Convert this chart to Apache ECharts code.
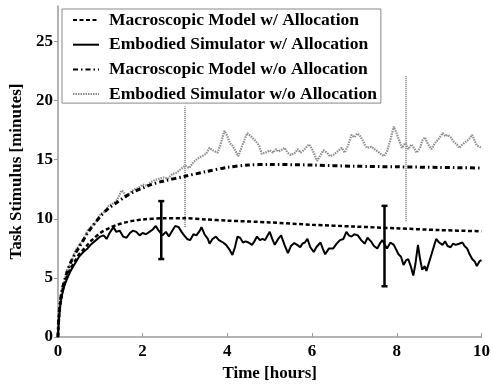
<!DOCTYPE html>
<html>
<head>
<meta charset="utf-8">
<script src="https://cdn.jsdelivr.net/npm/echarts@6/dist/echarts.min.js"></script>
<style>
html,body{margin:0;padding:0;background:#fff;}
#chart{width:493px;height:387px;}
</style>
</head>
<body>
<div id="chart"></div>
<script>
// ---- Data ----
const seriesNames = [
  'Macroscopic Model w/ Allocation',
  'Embodied Simulator w/ Allocation',
  'Macroscopic Model w/o Allocation',
  'Embodied Simulator w/o Allocation'
];

const xTicks = [0, 2, 4, 6, 8, 10];
const yTicks = [0, 5, 10, 15, 20, 25];

// Macroscopic model with allocation (dashed)
const macroWithX = [0,0.02,0.05,0.1,0.2,0.3,0.4,0.5,0.6,0.7,0.8,1.0,1.2,1.4,1.6,1.8,2.0,2.5,3.0,3.5,4.0,5.0,6.0,7.0,8.0,9.0,10.0];
const macroWithY = [0,1.5,2.7,3.8,5.0,5.8,6.4,7.0,7.4,7.8,8.2,8.8,9.2,9.5,9.7,9.85,9.95,10.05,10.05,9.95,9.85,9.7,9.5,9.35,9.2,9.05,8.95];

// Macroscopic model without allocation (dash-dot)
const macroWithoutX = [0,0.02,0.05,0.1,0.2,0.3,0.4,0.5,0.6,0.7,0.8,1.0,1.2,1.4,1.6,1.8,2.0,2.2,2.5,3.0,3.5,4.0,4.5,5.0,6.0,7.0,8.0,9.0,10.0];
const macroWithoutY = [0,1.6,2.8,4.0,5.3,6.3,7.0,7.6,8.2,8.8,9.3,10.2,10.9,11.4,11.9,12.3,12.6,12.9,13.2,13.6,14.0,14.35,14.55,14.6,14.55,14.45,14.4,14.35,14.3];

// Embodied simulator with allocation (solid)
const simWithX = [0,0.03,0.06,0.1,0.15,0.2,0.3,0.4,0.5,0.6,0.7,0.8,0.9,1.0,1.08,1.15,1.22,1.31,1.38,1.46,1.54,1.62,1.7,1.77,1.85,1.93,2.0,2.08,2.16,2.24,2.31,2.38,2.47,2.55,2.62,2.7,2.77,2.85,2.92,2.98,3.05,3.12,3.2,3.27,3.35,3.39,3.46,3.54,3.58,3.65,3.73,3.8,3.9,3.97,4.05,4.12,4.18,4.24,4.3,4.37,4.43,4.5,4.58,4.64,4.7,4.77,4.83,4.89,4.95,5.0,5.06,5.12,5.2,5.27,5.35,5.43,5.5,5.58,5.65,5.72,5.77,5.83,5.89,5.96,6.04,6.1,6.2,6.25,6.31,6.4,6.5,6.58,6.66,6.74,6.81,6.87,6.93,7.0,7.08,7.16,7.24,7.31,7.39,7.46,7.54,7.6,7.66,7.72,7.77,7.85,7.93,8.0,8.04,8.1,8.16,8.22,8.27,8.33,8.39,8.44,8.5,8.55,8.6,8.66,8.7,8.76,8.82,8.87,8.93,9.0,9.08,9.14,9.2,9.27,9.33,9.39,9.47,9.55,9.6,9.66,9.72,9.78,9.84,9.89,9.95,10.0];
const simWithY = [0,1.8,2.8,3.6,4.3,4.8,5.6,6.2,6.8,7.2,7.5,7.9,8.2,8.5,8.6,8.3,8.8,9.3,8.9,9.0,8.5,8.4,8.8,9.0,8.9,8.6,8.8,8.7,8.9,9.1,9.4,9.0,8.6,8.9,8.5,9.0,9.4,9.3,8.9,8.6,8.3,8.2,8.7,8.6,9.0,9.3,8.7,8.3,7.9,8.3,8.5,8.2,8.0,7.8,7.4,6.95,7.6,8.5,8.4,8.0,8.1,8.0,7.8,8.1,8.5,8.2,8.3,8.2,8.6,8.9,8.3,7.8,8.3,8.6,7.8,7.1,7.7,7.95,7.8,7.6,7.9,8.0,8.3,7.6,7.2,7.6,8.0,7.5,7.0,7.5,7.5,7.9,8.2,8.3,8.9,8.6,8.5,8.7,8.6,8.2,7.9,8.4,8.1,7.7,7.5,7.9,8.2,7.8,7.5,8.0,7.8,7.3,7.0,6.8,6.1,6.5,6.6,6.0,5.2,6.2,7.8,6.6,5.7,6.0,5.6,6.3,7.0,7.6,8.3,8.0,7.8,8.1,7.7,7.6,7.9,7.8,7.9,8.0,7.7,7.5,7.0,6.6,6.4,6.0,6.4,6.5];

// Embodied simulator without allocation (dotted grey)
const simWithoutX = [0,0.05,0.1,0.15,0.2,0.3,0.4,0.5,0.6,0.7,0.8,0.9,1.0,1.1,1.2,1.3,1.4,1.5,1.55,1.6,1.7,1.8,1.9,2.0,2.1,2.2,2.3,2.4,2.5,2.6,2.7,2.8,2.9,3.0,3.1,3.2,3.3,3.4,3.5,3.58,3.65,3.77,3.85,3.93,4.0,4.06,4.12,4.2,4.26,4.35,4.47,4.55,4.66,4.75,4.81,4.9,5.0,5.08,5.15,5.2,5.27,5.35,5.42,5.5,5.6,5.66,5.73,5.8,5.93,6.0,6.06,6.12,6.2,6.27,6.35,6.42,6.5,6.6,6.7,6.77,6.85,6.93,7.0,7.06,7.12,7.2,7.24,7.3,7.4,7.47,7.55,7.62,7.7,7.77,7.85,7.93,8.0,8.06,8.12,8.2,8.27,8.35,8.42,8.47,8.55,8.6,8.66,8.74,8.82,8.9,9.0,9.08,9.15,9.2,9.27,9.35,9.42,9.47,9.55,9.62,9.7,9.78,9.84,9.89,9.95,10.0];
const simWithoutY = [0,2.5,4.2,4.6,5.6,6.2,7.2,7.8,8.2,9.0,9.4,9.7,10.4,10.6,11.1,11.3,11.6,12.4,12.3,11.8,12.2,12.5,12.6,12.9,12.8,13.1,13.3,13.4,13.5,13.4,13.8,13.9,14.2,14.5,14.3,14.8,15.1,15.3,15.5,16.0,15.8,15.6,16.4,17.45,17.0,16.4,16.2,15.7,15.3,16.2,17.25,17.0,16.6,16.2,15.5,15.6,15.8,15.6,15.9,15.7,15.8,16.0,15.6,15.4,15.6,15.9,15.6,15.8,16.3,15.9,15.4,14.9,15.4,15.8,15.6,15.3,15.4,15.7,16.0,15.6,16.2,17.1,16.9,17.2,17.1,16.6,16.3,16.0,16.1,15.9,15.7,15.5,15.3,15.7,16.7,17.8,17.2,16.6,16.0,16.4,15.9,16.3,15.9,15.6,16.0,16.6,16.9,16.3,15.9,16.4,16.8,17.25,17.0,17.1,16.9,16.5,16.3,16.0,16.3,16.5,16.7,17.1,16.6,16.2,16.1,16.0];

// Error bars
const errWithX = [2.44, 7.71];
const errWithLo = [6.6, 4.3];
const errWithHi = [11.5, 11.1];
const errWithoutX = [3.0, 8.22];
const errWithoutLo = [9.3, 9.8];
const errWithoutHi = [19.5, 22.1];

// ---- Chart ----
const FONT = '"Liberation Serif", "Times New Roman", serif';
const GREY = '#8f8f8f';
const zip = (xs, ys) => xs.map((x, i) => [x, ys[i]]);

function errRender(color, dashed, capHalf) {
  return function (params, api) {
    const x = api.value(0), lo = api.value(1), hi = api.value(2);
    const pLo = api.coord([x, lo]);
    const pHi = api.coord([x, hi]);
    const style = { stroke: color, lineWidth: dashed ? 2 : 2.5, lineDash: dashed ? [1, 1] : null };
    const children = [
      { type: 'line', shape: { x1: pLo[0], y1: pLo[1], x2: pHi[0], y2: pHi[1] }, style: style }
    ];
    if (capHalf > 0) {
      children.push({ type: 'line', shape: { x1: pLo[0] - capHalf, y1: pLo[1], x2: pLo[0] + capHalf, y2: pLo[1] }, style: style });
      children.push({ type: 'line', shape: { x1: pHi[0] - capHalf, y1: pHi[1], x2: pHi[0] + capHalf, y2: pHi[1] }, style: style });
    }
    return { type: 'group', children: children };
  };
}

const chart = echarts.init(document.getElementById('chart'), null, { renderer: 'canvas' });
chart.setOption({
  animation: false,
  backgroundColor: '#fff',
  grid: { left: 53, right: 7, top: 6, bottom: 41, containLabel: false },
  legend: {
    left: 62, top: 9, orient: 'vertical',
    padding: [2, 4, 0, 10],
    itemWidth: 26, itemHeight: 14, itemGap: 6.7,
    borderColor: '#888', borderWidth: 1, backgroundColor: '#fff',
    itemStyle: { opacity: 0 },
    data: seriesNames,
    textStyle: { fontFamily: FONT, fontWeight: 'bold', fontSize: 17.5, color: '#000', lineHeight: 14, padding: [0, 0, 0, 5] }
  },
  xAxis: {
    type: 'value', min: 0, max: 10, interval: 2,
    name: 'Time [hours]', nameLocation: 'middle', nameGap: 21,
    nameTextStyle: { fontFamily: FONT, fontWeight: 'bold', fontSize: 17, color: '#000' },
    axisLine: { lineStyle: { color: '#999', width: 1.5 } },
    axisTick: { inside: true, length: 4, lineStyle: { color: '#999' }, customValues: xTicks },
    axisLabel: { margin: 6, fontFamily: FONT, fontWeight: 'bold', fontSize: 17, color: '#000', customValues: xTicks },
    splitLine: { show: false }
  },
  yAxis: {
    type: 'value', min: 0, max: 28, interval: 5,
    name: 'Task Stimulus [minutes]', nameLocation: 'middle', nameGap: 21,
    nameTextStyle: { fontFamily: FONT, fontWeight: 'bold', fontSize: 17, color: '#000' },
    axisLine: { show: true, lineStyle: { color: '#999', width: 1.5 } },
    axisTick: { show: true, inside: false, length: 4, lineStyle: { color: '#999' }, customValues: yTicks },
    axisLabel: { margin: 5, fontFamily: FONT, fontWeight: 'bold', fontSize: 17, color: '#000', customValues: yTicks },
    splitLine: { show: false }
  },
  series: [
    {
      name: seriesNames[3], type: 'line', data: zip(simWithoutX, simWithoutY),
      symbol: 'none', lineStyle: { color: GREY, width: 2.2, type: [1.5, 1] }, itemStyle: { color: GREY }, z: 2
    },
    {
      name: seriesNames[1], type: 'line', data: zip(simWithX, simWithY),
      symbol: 'none', lineStyle: { color: '#000', width: 2 }, itemStyle: { color: '#000' }, z: 3
    },
    {
      name: seriesNames[0], type: 'line', data: zip(macroWithX, macroWithY), smooth: 0.3,
      symbol: 'none', lineStyle: { color: '#000', width: 2.5, type: [4, 2.5] }, itemStyle: { color: '#000' }, z: 4
    },
    {
      name: seriesNames[2], type: 'line', data: zip(macroWithoutX, macroWithoutY), smooth: 0.3,
      symbol: 'none', lineStyle: { color: '#000', width: 3, type: [5, 3, 1.5, 3] }, itemStyle: { color: '#000' }, z: 4
    },
    {
      name: 'errWithout', type: 'custom', renderItem: errRender(GREY, true, 0),
      data: errWithoutX.map((x, i) => [x, errWithoutLo[i], errWithoutHi[i]]), z: 2, silent: true
    },
    {
      name: 'errWith', type: 'custom', renderItem: errRender('#000', false, 3),
      data: errWithX.map((x, i) => [x, errWithLo[i], errWithHi[i]]), z: 5, silent: true
    }
  ]
});
</script>
</body>
</html>
